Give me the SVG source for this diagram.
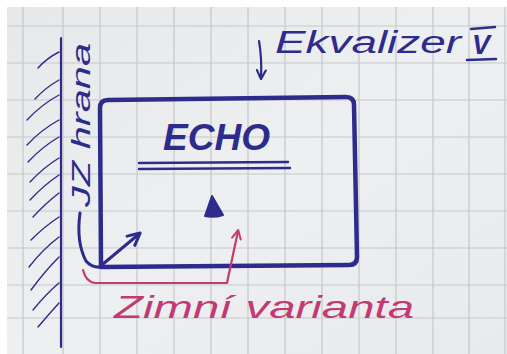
<svg xmlns="http://www.w3.org/2000/svg" width="507" height="354" viewBox="0 0 507 354">
<style>
.grid{stroke:#c6c7ca;stroke-width:1.2;fill:none}
.ink{stroke:#2d2b8c;fill:none;stroke-linecap:round;stroke-linejoin:round}
.pink{stroke:#c33a73;fill:none;stroke-linecap:round;stroke-linejoin:round}
.tb{fill:#2d2b8c;font-family:"Liberation Sans",Arial,sans-serif;font-style:italic}
.tp{fill:#c33a73;font-family:"Liberation Sans",Arial,sans-serif;font-style:italic}
</style>
<defs>
<marker id="hb" viewBox="0 0 10 10" refX="8" refY="5" markerWidth="5" markerHeight="5" orient="auto"><path d="M1,1 L9,5 L1,9" fill="none" stroke="#2d2b8c" stroke-width="2" stroke-linecap="round" stroke-linejoin="round"/></marker>
<marker id="hp" viewBox="0 0 10 10" refX="8" refY="5" markerWidth="5" markerHeight="5" orient="auto"><path d="M1,1 L9,5 L1,9" fill="none" stroke="#c33a73" stroke-width="1.8" stroke-linecap="round" stroke-linejoin="round"/></marker>
<linearGradient id="paper" x1="0" y1="0" x2="1" y2="1"><stop offset="0" stop-color="#e7e8ea"/><stop offset="0.5" stop-color="#eeeff0"/><stop offset="1" stop-color="#e9eaec"/></linearGradient>
</defs>
<rect width="507" height="354" fill="#ffffff"/>
<rect x="7" y="7" width="500" height="347" fill="url(#paper)"/>
<g id="grid" class="grid">
<path d="M23,7V354M63,7V354M100,7V354M137,7V354M174,7V354M211,7V354M248,7V354M285,7V354M322,7V354M359,7V354M396,7V354M433,7V354M469,7V354M505,7V354"/>
<path d="M7,26H507M7,63H507M7,100H507M7,137H507M7,174H507M7,211H507M7,248H507M7,285H507M7,318H507"/>
</g>
<g id="wall">
<path class="ink" stroke-width="2.2" d="M61,38 L61,347"/>
<path class="ink" stroke-width="1.4" d="M38,68 Q47,58 59,52 M35,99 Q45,88 59,80 M27,120 Q42,104 59,95 M27,145 Q42,129 59,120 M28,162 Q43,146 59,137 M30,182 Q44,167 59,158 M30,200 Q44,185 59,175 M33,217 Q46,203 59,193 M31,240 Q45,226 59,217 M29,267 Q43,249 59,237 M31,290 Q45,271 59,257 M33,310 Q46,294 59,283 M38,327 Q49,314 59,303"/>
</g>
<g id="jz-hrana">
<text class="tb" transform="translate(90,207) rotate(-90)" font-size="26" textLength="164" lengthAdjust="spacingAndGlyphs">JZ hrana</text>
</g>
<g id="ekvalizer">
<text class="tb" x="275" y="53" font-size="31" textLength="186" lengthAdjust="spacingAndGlyphs">Ekvalizer</text>
<text class="tb" x="472" y="54" font-size="27" font-weight="bold">V</text>
<path class="ink" stroke-width="2.5" d="M471,29 L495,27 M467,60 L496,59"/>
</g>
<g id="echo">
<path class="ink" stroke-width="4.5" d="M108,100 L346,97 Q354,97 354,105 L357,257 Q357,265 349,265 L101,267 L100,108 Q100,100 108,100 Z"/>
<text class="tb" x="163" y="150" font-size="37" font-weight="bold" textLength="107" lengthAdjust="spacingAndGlyphs">ECHO</text>
<path class="ink" stroke-width="2.4" d="M139,163 L288,162 M139,169 L290,168"/>
<path d="M212,196 L223,215 Q214,218 205,216 Z" fill="#2d2b8c" stroke="#2d2b8c" stroke-width="2" stroke-linejoin="round"/>
</g>
<g id="zimni-varianta">
<text class="tp" x="114" y="318" font-size="32" textLength="300" lengthAdjust="spacingAndGlyphs">Zimní varianta</text>
</g>
<g id="connectors">
<path class="ink" stroke-width="2.2" d="M259,41 Q262,58 261,78" marker-end="url(#hb)"/>
<path class="ink" stroke-width="3" d="M80,213 Q76,242 86,261 Q92,268 101,267"/>
<path class="ink" stroke-width="3" d="M103,264 L139,234" marker-end="url(#hb)"/>
<path class="pink" stroke-width="2.2" d="M83,270 Q86,282 95,283 L227,283 L238,231" marker-end="url(#hp)"/>
</g>
</svg>
